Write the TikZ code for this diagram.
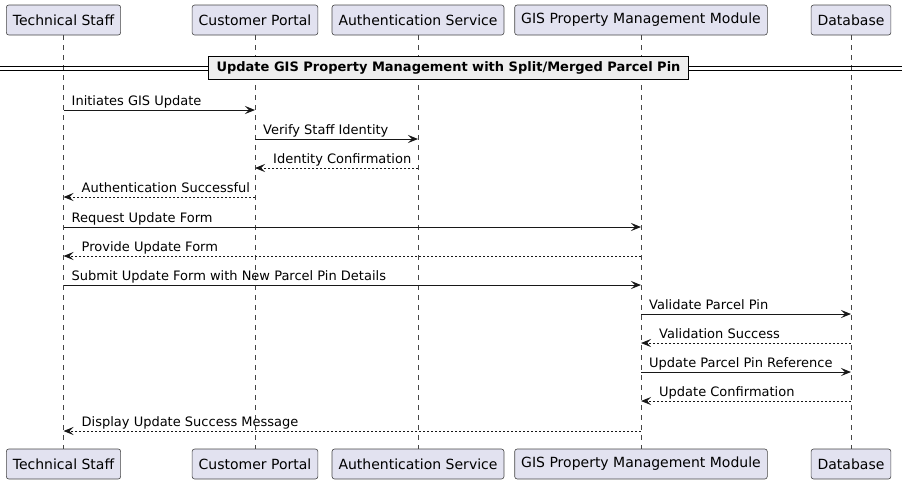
\documentclass[tikz,border=0pt]{standalone}
\usepackage{fontspec}
\setmainfont{DejaVu Sans}
\usetikzlibrary{arrows.meta}
\definecolor{partfill}{HTML}{E2E2F0}
\definecolor{umlline}{HTML}{181818}
\definecolor{divfill}{HTML}{EEEEEE}

\begin{document}
\begin{tikzpicture}[
    x=1pt, y=-1pt,
    font=\fontsize{13}{15}\selectfont,
    part/.style={rectangle, rounded corners=2.5pt, minimum height=30pt, inner xsep=6.5pt, draw=umlline!80, fill=partfill, line width=0.6pt, font=\fontsize{14}{16}\selectfont},
    life/.style={umlline!80, dash pattern=on 5pt off 5pt, line width=0.6pt},
    call/.style={umlline, line width=1pt, -{Stealth[length=10pt,width=8pt,inset=4pt]}},
    reply/.style={call, dash pattern=on 2pt off 2pt},
    lbl/.style={anchor=base west, inner sep=0pt},
    divbox/.style={draw=black, line width=1.5pt, fill=divfill, inner xsep=8pt, minimum height=23pt, font=\fontsize{13}{15}\selectfont\bfseries}
  ]
  \useasboundingbox (0,0) rectangle (902,483);

  % participants, top and bottom
  \node (staff)   [part] at (63.5,20) {Technical Staff};
  \node (portal)  [part] at (255,20)  {Customer Portal};
  \node (auth)    [part] at (418,20)  {Authentication Service};
  \node (gis)     [part] at (641,20)  {GIS Property Management Module};
  \node (db)      [part] at (851,20)  {Database};

  \node (staffb)  [part] at (63.5,464) {Technical Staff};
  \node (portalb) [part] at (255,464)  {Customer Portal};
  \node (authb)   [part] at (418,464)  {Authentication Service};
  \node (gisb)    [part] at (641,464)  {GIS Property Management Module};
  \node (dbb)     [part] at (851,464)  {Database};

  \foreach \p in {staff,portal,auth,gis,db}
    \draw[life] (\p) -- (\p b);

  % divider
  \draw[black, line width=0.9pt] (0,66) -- (902,66);
  \draw[black, line width=0.9pt] (0,70) -- (902,70);
  \node (divider) [divbox] at (448.5,68) {Update GIS Property Management with Split/Merged Parcel Pin};

  % calls
  \foreach \y/\a/\b/\t in {110/staff/portal/Initiates GIS Update,
                           139/portal/auth/Verify Staff Identity,
                           227/staff/gis/Request Update Form,
                           285/staff/gis/Submit Update Form with New Parcel Pin Details,
                           314/gis/db/Validate Parcel Pin,
                           372/gis/db/Update Parcel Pin Reference} {
    \draw[call] (\a |- 0,\y) -- (\b |- 0,\y);
    \node (msg\y) [lbl] at ([shift={(8,-5)}]\a |- 0,\y) {\t};
  }

  % replies
  \foreach \y/\a/\b/\t in {168/auth/portal/Identity Confirmation,
                           197/portal/staff/Authentication Successful,
                           256/gis/staff/Provide Update Form,
                           343/db/gis/Validation Success,
                           401/db/gis/Update Confirmation,
                           431/gis/staff/Display Update Success Message} {
    \draw[reply] (\a |- 0,\y) -- (\b |- 0,\y);
    \node (msg\y) [lbl] at ([shift={(18,-5)}]\b |- 0,\y) {\t};
  }
\end{tikzpicture}
\end{document}
